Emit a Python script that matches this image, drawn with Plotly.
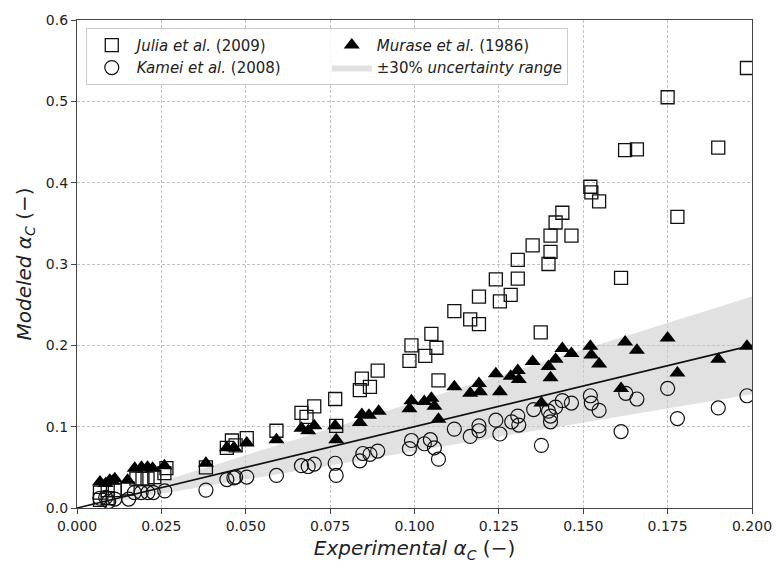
import numpy as np
import plotly.graph_objects as go

# Julia et al. (2009)
julia_x = [0.0068, 0.0068, 0.0091, 0.0091, 0.0112, 0.0150, 0.0176, 0.0194, 0.0209, 0.0229,
           0.0259, 0.0265, 0.0382, 0.0444, 0.0459, 0.0470, 0.0503, 0.0591, 0.0665, 0.0680,
           0.0703, 0.0765, 0.0768, 0.0838, 0.0844, 0.0868, 0.0891, 0.0985, 0.0991, 0.1032,
           0.1050, 0.1065, 0.1071, 0.1118, 0.1165, 0.1191, 0.1191, 0.1241, 0.1253, 0.1285,
           0.1306, 0.1306, 0.1350, 0.1374, 0.1397, 0.1403, 0.1403, 0.1418, 0.1438, 0.1465,
           0.1521, 0.1524, 0.1547, 0.1612, 0.1624, 0.1659, 0.1750, 0.1779, 0.1900, 0.1985]
julia_y = [0.019, 0.010, 0.022, 0.012, 0.022, 0.024, 0.036, 0.036, 0.036, 0.038,
           0.043, 0.049, 0.050, 0.074, 0.083, 0.077, 0.086, 0.095, 0.117, 0.112,
           0.125, 0.134, 0.101, 0.145, 0.159, 0.149, 0.169, 0.181, 0.200, 0.187,
           0.214, 0.197, 0.157, 0.242, 0.232, 0.226, 0.260, 0.281, 0.254, 0.262,
           0.282, 0.305, 0.323, 0.216, 0.300, 0.315, 0.335, 0.351, 0.363, 0.335,
           0.395, 0.388, 0.377, 0.283, 0.440, 0.441, 0.505, 0.358, 0.443, 0.541]

# Kamei et al. (2008)
kamei_x = [0.0068, 0.0085, 0.0094, 0.0112, 0.0153, 0.0170, 0.0190, 0.0210, 0.0226, 0.0260,
           0.0382, 0.0444, 0.0465, 0.0470, 0.0503, 0.0591, 0.0665, 0.0685, 0.0703, 0.0765,
           0.0768, 0.0838, 0.0847, 0.0868, 0.0891, 0.0985, 0.0991, 0.1029, 0.1047, 0.1059,
           0.1071, 0.1118, 0.1165, 0.1191, 0.1191, 0.1241, 0.1253, 0.1288, 0.1306, 0.1309,
           0.1353, 0.1376, 0.1397, 0.1403, 0.1403, 0.1418, 0.1438, 0.1465, 0.1521, 0.1524,
           0.1547, 0.1612, 0.1626, 0.1659, 0.1750, 0.1779, 0.1900, 0.1985]
kamei_y = [0.012, 0.013, 0.008, 0.011, 0.011, 0.019, 0.019, 0.019, 0.019, 0.021,
           0.022, 0.035, 0.037, 0.038, 0.038, 0.040, 0.052, 0.051, 0.054, 0.055,
           0.040, 0.058, 0.067, 0.066, 0.070, 0.073, 0.083, 0.079, 0.084, 0.074,
           0.060, 0.097, 0.088, 0.095, 0.101, 0.108, 0.091, 0.106, 0.113, 0.102,
           0.121, 0.077, 0.119, 0.106, 0.113, 0.124, 0.132, 0.129, 0.138, 0.129,
           0.120, 0.094, 0.141, 0.134, 0.147, 0.110, 0.123, 0.138]

# Murase et al. (1986)
murase_x = [0.0068, 0.0085, 0.0097, 0.0105, 0.0112, 0.0150, 0.0171, 0.0191, 0.0209, 0.0224,
            0.0259, 0.0382, 0.0444, 0.0465, 0.0503, 0.0591, 0.0665, 0.0685, 0.0703, 0.0765,
            0.0768, 0.0838, 0.0844, 0.0865, 0.0894, 0.0985, 0.0991, 0.1029, 0.1050, 0.1059,
            0.1071, 0.1118, 0.1165, 0.1191, 0.1194, 0.1241, 0.1253, 0.1285, 0.1306, 0.1309,
            0.1350, 0.1376, 0.1397, 0.1403, 0.1418, 0.1438, 0.1465, 0.1521, 0.1524, 0.1547,
            0.1612, 0.1624, 0.1659, 0.1750, 0.1779, 0.1900, 0.1985]
murase_y = [0.032, 0.030, 0.034, 0.033, 0.036, 0.034, 0.049, 0.050, 0.050, 0.049,
            0.052, 0.055, 0.074, 0.074, 0.080, 0.084, 0.098, 0.095, 0.101, 0.101,
            0.084, 0.105, 0.115, 0.114, 0.119, 0.122, 0.132, 0.131, 0.135, 0.125,
            0.109, 0.149, 0.141, 0.153, 0.143, 0.165, 0.143, 0.162, 0.169, 0.158,
            0.180, 0.129, 0.174, 0.160, 0.183, 0.196, 0.190, 0.199, 0.188, 0.177,
            0.147, 0.204, 0.194, 0.209, 0.166, 0.183, 0.199]

uncertainty = 0.30
x_range = [0.0, 0.2]
y_range = [0.0, 0.6]
x_ticks = [0.000, 0.025, 0.050, 0.075, 0.100, 0.125, 0.150, 0.175, 0.200]
y_ticks = [0.0, 0.1, 0.2, 0.3, 0.4, 0.5, 0.6]

xl = np.array(x_range)
band_x = list(xl) + list(xl[::-1])
band_y = list(xl * (1 + uncertainty)) + list((xl * (1 - uncertainty))[::-1])

FONT = "DejaVu Sans"
fig = go.Figure()

fig.add_trace(go.Scatter(
    x=band_x, y=band_y, fill="toself", mode="lines",
    fillcolor="rgba(200,200,200,0.55)", line=dict(width=0, color="rgba(0,0,0,0)"),
    name="±30% <i>uncertainty range</i>", legendrank=4, hoverinfo="skip"))

fig.add_trace(go.Scatter(
    x=list(xl), y=list(xl), mode="lines", line=dict(color="#111111", width=1.6),
    showlegend=False, hoverinfo="skip"))

fig.add_trace(go.Scatter(
    x=julia_x, y=julia_y, mode="markers", name="<i>Julia et al.</i> (2009)",
    marker=dict(symbol="square-open", size=13, color="#111111", line=dict(width=1.3)),
    legendrank=1))

fig.add_trace(go.Scatter(
    x=kamei_x, y=kamei_y, mode="markers", name="<i>Kamei et al.</i> (2008)",
    marker=dict(symbol="circle-open", size=14, color="#111111", line=dict(width=1.2)),
    legendrank=3))

fig.add_trace(go.Scatter(
    x=murase_x, y=murase_y, mode="markers", name="<i>Murase et al.</i> (1986)",
    marker=dict(symbol="triangle-up", size=14, color="#000000", line=dict(width=0)),
    legendrank=2))

axis_common = dict(
    showline=True, linecolor="#444444", linewidth=1.3, mirror=True,
    ticks="outside", ticklen=5, tickcolor="#444444",
    showgrid=True, gridcolor="#c4c4c4", griddash="3px,2px", gridwidth=0.9,
    zeroline=False, tickfont=dict(family=FONT, size=14, color="#222222"),
)

fig.update_layout(
    width=784, height=570,
    margin=dict(l=77, r=27, t=14, b=62),
    paper_bgcolor="white", plot_bgcolor="white",
    font=dict(family=FONT, color="#222222"),
    xaxis=dict(range=x_range, tickvals=x_ticks, tickformat=".3f",
               title=dict(text="<i>Experimental α<sub>C</sub></i> (−)",
                          font=dict(family=FONT, size=20), standoff=8),
               **axis_common),
    yaxis=dict(range=y_range, tickvals=y_ticks, tickformat=".1f",
               title=dict(text="<i>Modeled α<sub>C</sub></i> (−)",
                          font=dict(family=FONT, size=20), standoff=8),
               **axis_common),
    legend=dict(
        orientation="h", x=0.013, y=0.984, xanchor="left", yanchor="top",
        entrywidth=185, entrywidthmode="pixels", itemwidth=40,
        bgcolor="rgba(255,255,255,0.85)", bordercolor="#cccccc", borderwidth=1,
        font=dict(family=FONT, size=15, color="#222222"),
        traceorder="normal",
    ),
    showlegend=True,
)

fig.write_html("out.html")
